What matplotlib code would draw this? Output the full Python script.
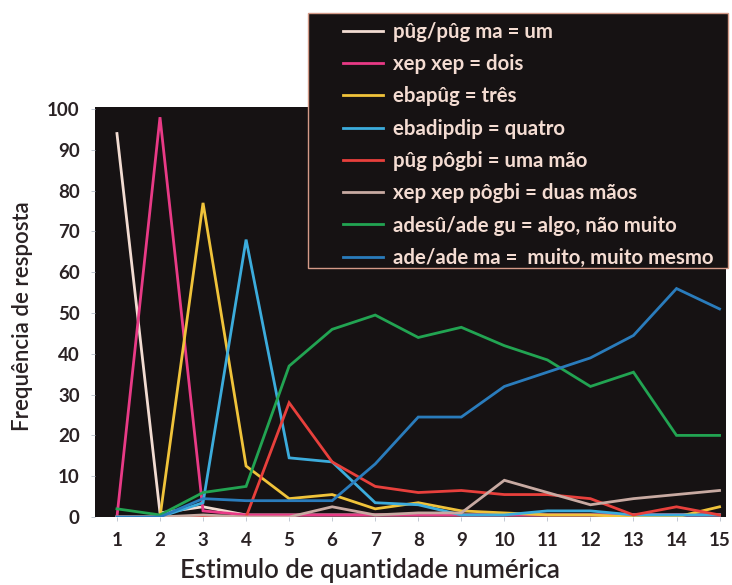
import matplotlib
matplotlib.use("Agg")
import matplotlib.pyplot as plt
from matplotlib.patches import Rectangle

plt.rcParams['font.family'] = ['Lato', 'DejaVu Sans']

x = list(range(1, 16))
tick_labels = [str(i) for i in x]

labels = [
    "pûg/pûg ma = um",
    "xep xep = dois",
    "ebapûg = três",
    "ebadipdip = quatro",
    "pûg pôgbi = uma mão",
    "xep xep pôgbi = duas mãos",
    "adesû/ade gu = algo, não muito",
    "ade/ade ma =  muito, muito mesmo",
]

um        = [94, 1, 2.5, 0.5, 0.5, 0.5, 0.5, 0.5, 0.5, 0.5, 0.5, 0.5, 0.5, 0.5, 0.5]
dois      = [0, 98, 1.5, 0.5, 0.5, 0.5, 0.5, 0.5, 0.5, 0.5, 0.5, 0.5, 0.5, 0.5, 0.5]
tres      = [0, 0, 77, 12.5, 4.5, 5.5, 2, 3.5, 1.5, 1, 0.5, 0.5, 0, 0, 2.5]
quatro    = [0, 0, 3.5, 68, 14.5, 13.5, 3.5, 3, 0.5, 0.5, 1.5, 1.5, 0.5, 0.5, 0.5]
uma_mao   = [0, 0, 0, 0, 28, 13.5, 7.5, 6, 6.5, 5.5, 5.5, 4.5, 0.5, 2.5, 0.5]
duas_maos = [0, 0, 0.5, 0, 0, 2.5, 0.5, 1, 1, 9, 6, 3, 4.5, 5.5, 6.5]
algo      = [2, 0.5, 6, 7.5, 37, 46, 49.5, 44, 46.5, 42, 38.5, 32, 35.5, 20, 20]
muito     = [0, 0, 4.5, 4, 4, 4, 13, 24.5, 24.5, 32, 35.5, 39, 44.5, 56, 51]

series = [um, dois, tres, quatro, uma_mao, duas_maos, algo, muito]
colors = ["#f2dcd2", "#e83a86", "#f0c33a", "#3cacdc", "#e8403c", "#c8aaa2", "#22a452", "#2a7cbc"]

fig = plt.figure(figsize=(7.32, 5.85), dpi=100)
fig.patch.set_facecolor("white")
ax = fig.add_axes([95/732, 1 - 517/585, (726 - 95)/732, (517 - 107)/585])
ax.set_facecolor("#161213")

handles = []
for ys, c, lab in zip(series, colors, labels):
    h, = ax.plot(x, ys, color=c, lw=2.0, label=lab, solid_joinstyle="miter")
    handles.append(h)

ax.set_xlim(0.49, 15.15)
ax.set_ylim(0, 100.5)
ax.set_xticks(x)
ax.set_xticklabels(tick_labels)
ax.set_yticks(range(0, 101, 10))
ax.tick_params(axis="both", length=3, width=0.6, color="#b8c0cc",
               labelsize=13.5, labelcolor="#2a2224", pad=8)
for lbl in ax.get_xticklabels() + ax.get_yticklabels():
    lbl.set_fontweight("bold")
for s in ax.spines.values():
    s.set_visible(False)

ax.set_xlabel("Estimulo de quantidade numérica", fontsize=18.5, fontweight="semibold",
              color="#2a2224")
ax.xaxis.set_label_coords(0.436, -0.1)
ax.set_ylabel("Frequência de resposta", fontsize=16, fontweight="semibold",
              color="#2a2224")
ax.yaxis.set_label_coords(-0.098, 0.49)

# legend box
fig.patches.append(Rectangle((308/732, 1 - 268/585), (728 - 308)/732, (268 - 13)/585,
                             transform=fig.transFigure, facecolor="#161213",
                             edgecolor="#d49a88", lw=1.0, zorder=5))
leg = fig.legend(handles=handles, labels=labels, loc="upper left",
                 bbox_to_anchor=(343/732, 1 - 22/585), frameon=False,
                 fontsize=14.7, handlelength=1.95, handletextpad=0.5,
                 labelspacing=0.6, borderpad=0, borderaxespad=0)
leg.set_zorder(6)
for t in leg.get_texts():
    t.set_color("#f4dcd2")
    t.set_fontweight("bold")

fig.savefig("out.png", dpi=100, facecolor="white")
